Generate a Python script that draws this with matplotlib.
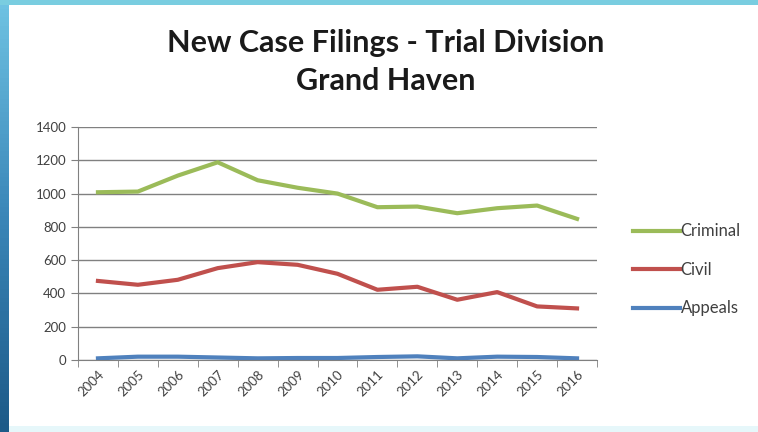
#!/usr/bin/env python3
"""New case filings chart, trial division Grand Haven"""

import numpy as np
import matplotlib
matplotlib.use("Agg")
import matplotlib.pyplot as plt
from matplotlib.colors import LinearSegmentedColormap

years = [str(y) for y in range(2004, 2017)]
criminal = [1008, 1012, 1108, 1188, 1080, 1035, 1000, 918, 922, 882, 912, 928, 848]
civil = [475, 452, 482, 552, 588, 572, 518, 422, 440, 362, 408, 322, 310]
appeals = [10, 20, 20, 15, 10, 12, 12, 18, 22, 10, 20, 18, 10]

plt.rcParams['font.family'] = ['Lato', 'DejaVu Sans']

fig = plt.figure(figsize=(7.58, 4.32), dpi=100)

# blue frame pieces like the slide background
grad = fig.add_axes([0, 0, 9 / 758, 1])
cmap = LinearSegmentedColormap.from_list('frame', ['#6fc3e3', '#3a86b8', '#1d5a88'])
grad.imshow(np.linspace(0, 1, 100).reshape(-1, 1), aspect='auto', cmap=cmap)
grad.axis('off')
top = fig.add_axes([0, 1 - 5 / 432, 1, 5 / 432])
top.axis('off')
top.add_patch(plt.Rectangle((0, 0), 1, 1, color='#79cde0', transform=top.transAxes))
bot = fig.add_axes([9 / 758, 0, 1, 6 / 432])
bot.axis('off')
bot.add_patch(plt.Rectangle((0, 0), 1, 1, color='#e6f7fa', transform=bot.transAxes))

ax = fig.add_axes([78 / 758, 1 - 360 / 432, 519 / 758, 233 / 432])
x = np.arange(len(years))
ax.plot(x, criminal, color='#9bbb59', lw=3, label='Criminal')
ax.plot(x, civil, color='#c0504d', lw=3, label='Civil')
ax.plot(x, appeals, color='#4f81bd', lw=3, label='Appeals')

ax.set_xlim(-0.5, len(years) - 0.5)
ax.set_ylim(0, 1400)
ax.set_yticks(range(0, 1401, 200))
ax.yaxis.grid(True, color='#808080', lw=1)
ax.set_axisbelow(True)
ax.set_xticks(x)
ax.set_xticklabels(years, rotation=45, ha='right', rotation_mode='anchor')
ax.set_xticks(np.arange(-0.5, len(years)), minor=True)
ax.tick_params(axis='x', which='major', length=0, pad=6)
ax.tick_params(axis='x', which='minor', length=5, color='#808080')
ax.tick_params(axis='y', length=5, color='#808080')
ax.tick_params(labelsize=9.5, labelcolor='#404040')
for s in ['top', 'right']:
    ax.spines[s].set_visible(False)
for s in ['left', 'bottom']:
    ax.spines[s].set_color('#808080')

fig.text(386 / 758, 1 - 52 / 432, 'New Case Filings - Trial Division', ha='center',
         va='baseline', fontsize=22, fontweight='bold', color='#1a1a1a')
fig.text(386 / 758, 1 - 90 / 432, 'Grand Haven', ha='center',
         va='baseline', fontsize=22, fontweight='bold', color='#1a1a1a')

fig.legend(loc='center left', bbox_to_anchor=(618 / 758, 1 - 270 / 432), frameon=False,
           fontsize=12, handlelength=2.8, handletextpad=0.05, labelspacing=1.35,
           labelcolor='#404040')

plt.savefig('out.png', dpi=100)
